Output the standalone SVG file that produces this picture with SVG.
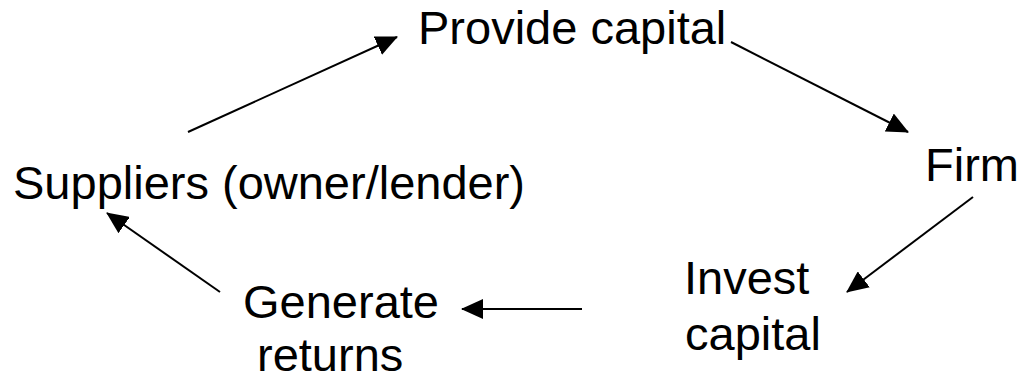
<svg xmlns="http://www.w3.org/2000/svg" width="1021" height="377" viewBox="0 0 1021 377">
<style>
text{font-family:"Liberation Sans",Arial,sans-serif;font-size:47px;fill:#000}
.c line{stroke:#000;stroke-width:2;marker-end:url(#ah)}
</style>
<defs>
<marker id="ah" viewBox="0 0 22 20" refX="21" refY="10" markerWidth="22" markerHeight="20" orient="auto" markerUnits="userSpaceOnUse"><path d="M0,0 L22,10 L0,20 Z" fill="#000"/></marker>
</defs>
<rect width="1021" height="377" fill="#fff"/>
<g id="provide"><text x="418" y="44">Provide capital</text></g>
<g id="firm"><text x="925" y="181">Firm</text></g>
<g id="suppliers"><text x="13" y="199">Suppliers (owner/lender)</text></g>
<g id="invest"><text x="684" y="294">Invest</text><text x="685" y="350">capital</text></g>
<g id="generate"><text x="243" y="318">Generate</text><text x="257" y="371">returns</text></g>
<g class="c" id="connectors">
<line x1="188" y1="132" x2="397" y2="37"/>
<line x1="731" y1="42" x2="908" y2="132"/>
<line x1="973" y1="197" x2="847" y2="292"/>
<line x1="582" y1="309" x2="462" y2="309"/>
<line x1="220" y1="292" x2="107" y2="213"/>
</g>
</svg>
